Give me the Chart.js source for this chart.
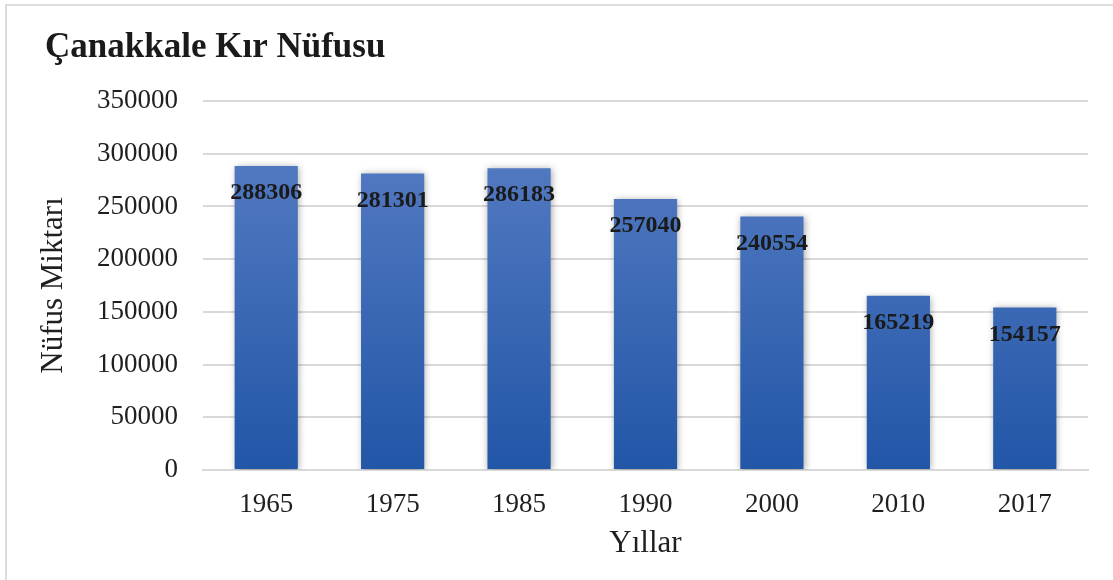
<!DOCTYPE html>
<html>
<head>
<meta charset="utf-8">
<script src="https://cdn.jsdelivr.net/npm/chart.js@4.4.1/dist/chart.umd.min.js"></script>
<style>
    html, body { margin: 0; padding: 0; background: #ffffff; }
    #wrap { width: 1113px; height: 580px; position: relative; }
</style>
</head>
<body>
<div id="wrap"><canvas id="chart" width="1113" height="580"></canvas></div>
<script>
const chartTitle = 'Çanakkale Kır Nüfusu';
const years = ['1965', '1975', '1985', '1990', '2000', '2010', '2017'];
const population = [288306, 281301, 286183, 257040, 240554, 165219, 154157];
const yTicks = [0, 50000, 100000, 150000, 200000, 250000, 300000, 350000];
const xAxisTitle = 'Yıllar';
const yAxisTitle = 'Nüfus Miktarı';

const SERIF = "'Liberation Serif', 'Times New Roman', serif";
Chart.defaults.font.family = SERIF;
Chart.defaults.color = '#1f1f1f';

// gradient per bar, lighter on top
function barGradient(context) {
    const { chart } = context;
    const area = chart.chartArea;
    if (!area) return '#3c66b4';
    const g = chart.ctx.createLinearGradient(0, area.top, 0, area.bottom);
    g.addColorStop(0, '#5b80c6');
    g.addColorStop(1, '#2256a7');
    return g;
}

// frame lines and chart heading
const framePlugin = {
    id: 'frame',
    beforeDraw(chart) {
        const ctx = chart.ctx;
        ctx.save();
        ctx.fillStyle = '#ffffff';
        ctx.fillRect(0, 0, chart.width, chart.height);
        ctx.strokeStyle = '#dcdcdc';
        ctx.lineWidth = 2;
        ctx.beginPath();
        ctx.moveTo(6, chart.height);
        ctx.lineTo(6, 5);
        ctx.lineTo(chart.width, 5);
        ctx.stroke();
        ctx.restore();
    },
    afterDraw(chart) {
        const ctx = chart.ctx;
        ctx.save();
        ctx.font = 'bold 35px ' + SERIF;
        ctx.fillStyle = '#1a1a1a';
        ctx.textAlign = 'left';
        ctx.textBaseline = 'alphabetic';
        ctx.fillText(chartTitle, 45, 57);
        ctx.restore();
    }
};

// soft shadow behind bars
const shadowPlugin = {
    id: 'barShadow',
    beforeDatasetsDraw(chart) {
        const ctx = chart.ctx;
        ctx.save();
        ctx.shadowColor = 'rgba(0, 0, 0, 0.35)';
        ctx.shadowBlur = 7;
        ctx.shadowOffsetX = 1;
        ctx.shadowOffsetY = 1;
    },
    afterDatasetsDraw(chart) {
        chart.ctx.restore();
    }
};

// value labels just below the bar tops
const valueLabels = {
    id: 'valueLabels',
    afterDatasetsDraw(chart) {
        const ctx = chart.ctx;
        const meta = chart.getDatasetMeta(0);
        ctx.save();
        ctx.font = 'bold 24px ' + SERIF;
        ctx.fillStyle = '#1a1a1a';
        ctx.textAlign = 'center';
        ctx.textBaseline = 'middle';
        meta.data.forEach((bar, i) => {
            ctx.fillText(String(population[i]), bar.x, bar.y + 27);
        });
        ctx.restore();
    }
};

new Chart(document.getElementById('chart').getContext('2d'), {
    type: 'bar',
    data: {
        labels: years,
        datasets: [{
            label: yAxisTitle,
            data: population,
            backgroundColor: barGradient,
            borderWidth: 0,
            categoryPercentage: 1,
            barPercentage: 0.5
        }]
    },
    options: {
        responsive: false,
        animation: false,
        layout: { padding: { top: 101, left: 30, right: 25, bottom: 0 } },
        scales: {
            x: {
                grid: { display: false, drawTicks: false },
                border: { display: true, color: '#d9d9d9', width: 2 },
                ticks: { font: { size: 27 }, color: '#1f1f1f', padding: 19, maxRotation: 0 },
                title: {
                    display: true,
                    text: xAxisTitle,
                    font: { size: 31 },
                    color: '#1f1f1f',
                    padding: { top: 0, bottom: 18 }
                },
                afterFit(scale) { scale.height = 110; }
            },
            y: {
                min: 0,
                max: 350000,
                afterBuildTicks(scale) { scale.ticks = yTicks.map(v => ({ value: v })); },
                grid: { color: '#d9d9d9', lineWidth: 2, drawTicks: false },
                border: { display: false },
                ticks: {
                    font: { size: 27 },
                    color: '#1f1f1f',
                    padding: 25,
                    callback: (value) => String(value)
                },
                title: {
                    display: true,
                    text: yAxisTitle,
                    font: { size: 31 },
                    color: '#1f1f1f',
                    padding: { top: 5, bottom: 0 }
                },
                afterFit(scale) { scale.width = 173; }
            }
        },
        plugins: {
            legend: { display: false },
            tooltip: { enabled: false }
        }
    },
    plugins: [framePlugin, shadowPlugin, valueLabels]
});
</script>
</body>
</html>
